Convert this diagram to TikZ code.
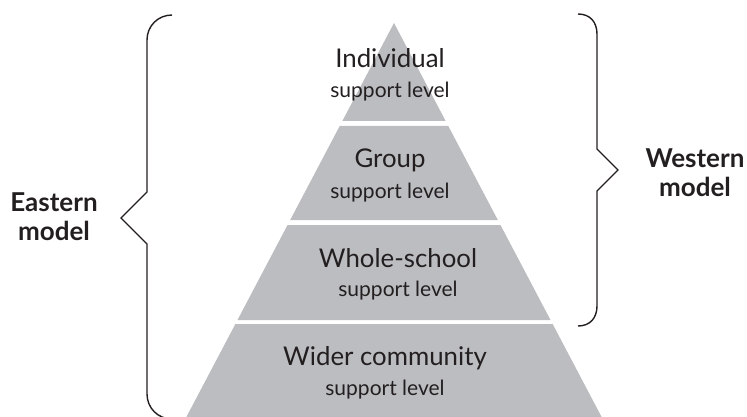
\documentclass[tikz,border=0pt]{standalone}
\usepackage{fontspec}
\setmainfont{Lato}
\definecolor{bandgray}{HTML}{BCBDC0}
\definecolor{ink}{HTML}{231F20}
\begin{document}
\begin{tikzpicture}[x=1pt,y=-1pt,
  band/.style={fill=bandgray},
  brace/.style={draw=ink,line width=1.4pt,line join=miter},
  maintext/.style={text=ink,font=\fontsize{25.8}{30}\selectfont,inner sep=0pt},
  subtext/.style={text=ink,font=\fontsize{21}{24}\selectfont,inner sep=0pt},
  sidetext/.style={text=ink,font=\fontsize{26}{29}\selectfont\bfseries,align=center,inner sep=0pt}]
\useasboundingbox (0,0) rectangle (747,417);
\begin{scope}
\clip (0,0) rectangle (747,417);
% pyramid bands (apex 394,23; half-width 0.527 per px)
\fill[band] (394,23) -- ({394+0.527*98},121) -- ({394-0.527*98},121) -- cycle;
\fill[band] ({394-0.527*103},126) -- ({394+0.527*103},126) -- ({394+0.527*197},220) -- ({394-0.527*197},220) -- cycle;
\fill[band] ({394-0.527*202},225) -- ({394+0.527*202},225) -- ({394+0.527*297},320) -- ({394-0.527*297},320) -- cycle;
\fill[band] ({394-0.527*301},324) -- ({394+0.527*301},324) -- ({394+0.527*400},423) -- ({394-0.527*400},423) -- cycle;
% braces
\draw[brace] (172,15) .. controls (158,15) and (147,26) .. (147,40) -- (147,192) -- (121,218) -- (147,244) -- (147,394) .. controls (147,408) and (158,419) .. (172,419);
\draw[brace] (578,14) .. controls (590,14) and (597,22) .. (597,34) -- (597,149) -- (618,170) -- (597,191) -- (597,306) .. controls (597,318) and (590,326) .. (578,326);
\end{scope}
% texts
\node[maintext] (ind) at (390,58.5) {Individual};
\node[subtext] (inds) at (390,91.5) {support level};
\node[maintext] (grp) at (390,160) {Group};
\node[subtext] (grps) at (390,193) {support level};
\node[maintext] (whs) at (398,258) {Whole-school};
\node[subtext] (whss) at (398,291) {support level};
\node[maintext] (wid) at (385,358) {Wider community};
\node[subtext] (wids) at (385,390) {support level};
\node[sidetext] (east) at (54,217) {Eastern\\model};
\node[sidetext] (west) at (695,173) {Western\\model};
\end{tikzpicture}
\end{document}
